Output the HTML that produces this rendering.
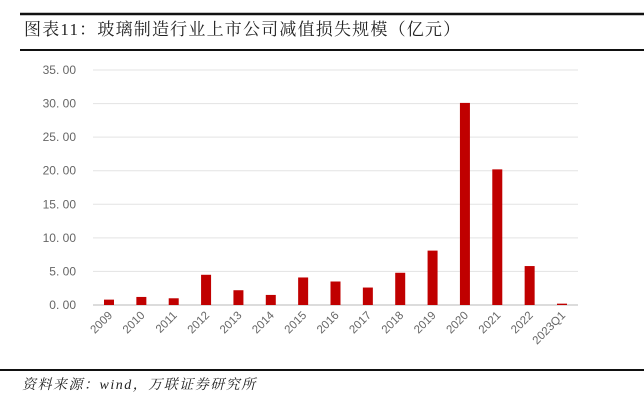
<!DOCTYPE html>
<html><head><meta charset="utf-8"><style>
body{margin:0;background:#fff;width:644px;height:404px;overflow:hidden;font-family:"Liberation Serif","Noto Serif CJK SC",serif}
</style></head><body>
<svg width="644" height="404">
<line x1="20" y1="14" x2="644" y2="14" stroke="#111" stroke-width="2.5"/>
<text x="24" y="35" font-size="17" letter-spacing="1.2" fill="#222">图表11：玻璃制造行业上市公司减值损失规模（亿元）</text>
<line x1="20" y1="50" x2="644" y2="50" stroke="#111" stroke-width="2"/>
<g id="grid"></g><g id="bars"></g><g id="xl"></g>
<line x1="0" y1="370" x2="644" y2="370" stroke="#111" stroke-width="2"/>
<text x="22" y="389" font-size="14" letter-spacing="1.5" font-style="italic" fill="#222">资料来源：wind，万联证券研究所</text>
</svg>
<script>
const categories=["2009","2010","2011","2012","2013","2014","2015","2016","2017","2018","2019","2020","2021","2022","2023Q1"];
const values=[0.8,1.2,1.0,4.5,2.2,1.5,4.1,3.5,2.6,4.8,8.1,30.1,20.2,5.8,0.2];
const ticks=[0,5,10,15,20,25,30,35];
const tickLabels=["0. 00","5. 00","10. 00","15. 00","20. 00","25. 00","30. 00","35. 00"];
const NS="http://www.w3.org/2000/svg";
const y=v=>305-v*(235/35);
const x=i=>109+i*(453/14);
function mk(t,a,p){const e=document.createElementNS(NS,t);for(const k in a)e.setAttribute(k,a[k]);p.appendChild(e);return e;}
const g=document.getElementById('grid'),b=document.getElementById('bars'),xl=document.getElementById('xl');
ticks.forEach((t,i)=>{
 const l=mk('line',{x1:93,x2:578,y1:y(t),y2:y(t),stroke:t===0?'#d0d0d0':'#e3e3e3','stroke-width':t===0?1.5:1},g);
 
 
 const tx=mk('text',{x:76,y:y(t)+4,'text-anchor':'end','font-size':12,fill:'#666','font-family':'Liberation Sans, sans-serif'},g);
 tx.textContent=tickLabels[i];
 
 
});
values.forEach((v,i)=>{
 const r=mk('rect',{x:x(i)-5,y:y(v),width:10,height:305-y(v),fill:'#c00000'},b);
 
 
 const cx=x(i)+4,cy=316;
 const t=mk('text',{x:cx,y:cy,'text-anchor':'end','font-size':11.5,fill:'#666','font-family':'Liberation Sans, sans-serif',transform:`rotate(-45 ${cx} ${cy})`},xl);
 t.textContent=categories[i];
 
 
});
</script>
</body></html>
